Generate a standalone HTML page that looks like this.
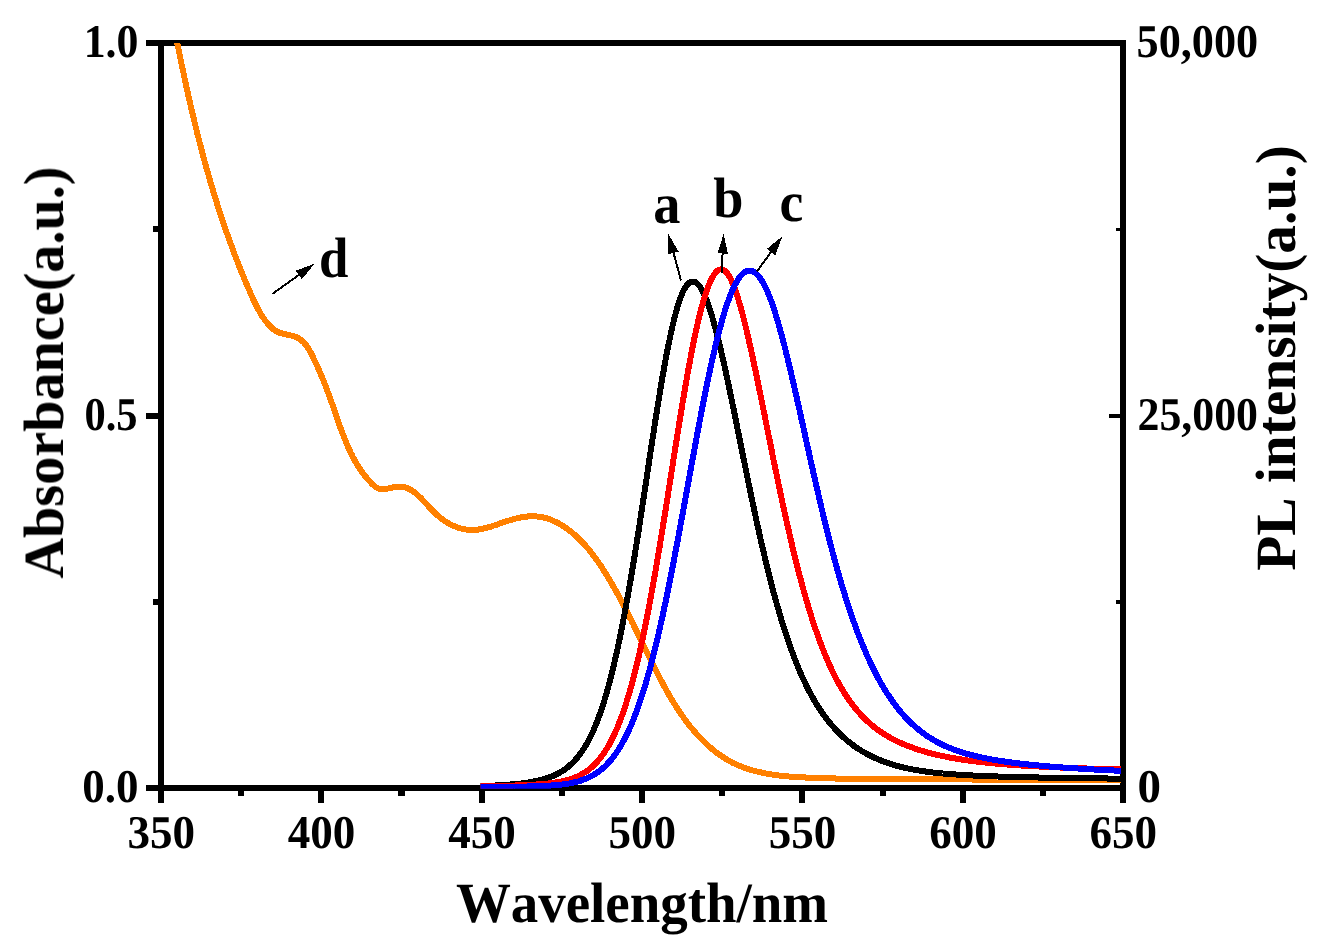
<!DOCTYPE html>
<html><head><meta charset="utf-8"><title>Absorbance and PL spectra</title>
<style>html,body{margin:0;padding:0;background:#fff;}body{width:1334px;height:950px;overflow:hidden;}svg{display:block;}text{font-family:"Liberation Serif",serif;font-weight:bold;fill:#000;font-kerning:none;text-rendering:geometricPrecision;}</style>
</head><body>
<svg width="1334" height="950" viewBox="0 0 1334 950">
<rect width="1334" height="950" fill="#fff"/>
<g fill="#000" shape-rendering="crispEdges">
<rect x="146" y="40" width="980" height="6"/>
<rect x="146" y="785" width="980" height="6"/>
<rect x="158" y="40" width="6" height="763"/>
<rect x="1120" y="40" width="6" height="763"/>
<rect x="318" y="791" width="6" height="12"/>
<rect x="479" y="791" width="6" height="12"/>
<rect x="639" y="791" width="6" height="12"/>
<rect x="799" y="791" width="6" height="12"/>
<rect x="960" y="791" width="6" height="12"/>
<rect x="238" y="791" width="6" height="5"/>
<rect x="398" y="791" width="7" height="5"/>
<rect x="559" y="791" width="6" height="5"/>
<rect x="719" y="791" width="6" height="5"/>
<rect x="880" y="791" width="6" height="5"/>
<rect x="1040" y="791" width="6" height="5"/>
<rect x="146" y="413" width="12" height="6"/>
<rect x="153" y="599" width="5" height="6"/>
<rect x="153" y="226" width="5" height="6"/>
<rect x="1109" y="414" width="11" height="4"/>
<rect x="1116" y="228" width="4" height="3"/>
<rect x="1116" y="600" width="4" height="4"/>
</g>
<defs><clipPath id="plot"><rect x="161" y="43" width="960" height="745.8"/></clipPath><clipPath id="plot2"><rect x="480.5" y="43" width="640.5" height="745.8"/></clipPath></defs>
<g clip-path="url(#plot)" fill="none" stroke-width="6" stroke-linejoin="round" stroke-linecap="butt" shape-rendering="crispEdges">
<path stroke="#ff8000" d="M174.7 30.0 L175.0 31.4 L175.3 32.9 L175.6 34.4 L175.9 35.9 L176.2 37.3 L176.5 38.8 L176.8 40.3 L177.1 41.7 L177.3 43.2 L177.6 44.7 L177.9 46.2 L178.2 47.6 L178.5 49.1 L178.8 50.6 L179.1 52.0 L179.4 53.5 L179.7 55.0 L180.0 56.5 L180.3 57.9 L180.6 59.4 L180.9 60.9 L181.2 62.3 L181.5 63.8 L181.8 65.3 L182.1 66.8 L182.4 68.2 L182.7 69.7 L183.1 71.2 L183.4 72.6 L183.7 74.1 L184.0 75.6 L184.3 77.0 L184.6 78.5 L184.9 80.0 L185.3 81.4 L185.6 82.9 L185.9 84.4 L186.2 85.8 L186.5 87.3 L186.9 88.8 L187.2 90.2 L187.5 91.7 L187.8 93.2 L188.2 94.6 L188.5 96.1 L188.8 97.6 L189.1 99.0 L189.5 100.5 L189.8 101.9 L190.1 103.4 L190.5 104.9 L190.8 106.3 L191.2 107.8 L191.5 109.3 L191.8 110.7 L192.2 112.2 L192.5 113.6 L192.9 115.1 L193.2 116.6 L193.6 118.0 L193.9 119.5 L194.3 120.9 L194.6 122.4 L195.0 123.9 L195.3 125.3 L195.7 126.8 L196.0 128.2 L196.4 129.7 L196.8 131.1 L197.1 132.6 L197.5 134.1 L197.9 135.5 L198.2 137.0 L198.6 138.4 L199.0 139.9 L199.3 141.3 L199.7 142.8 L200.1 144.2 L200.5 145.7 L200.8 147.1 L201.2 148.6 L201.6 150.0 L202.0 151.5 L202.4 152.9 L202.8 154.4 L203.1 155.8 L203.5 157.3 L203.9 158.7 L204.3 160.2 L204.7 161.6 L205.1 163.1 L205.5 164.5 L205.9 166.0 L206.3 167.4 L206.7 168.8 L207.1 170.3 L207.5 171.7 L207.9 173.2 L208.4 174.6 L208.8 176.1 L209.2 177.5 L209.6 178.9 L210.0 180.4 L210.4 181.8 L210.9 183.3 L211.3 184.7 L211.7 186.1 L212.1 187.6 L212.6 189.0 L213.0 190.4 L213.4 191.9 L213.9 193.3 L214.3 194.7 L214.8 196.2 L215.2 197.6 L215.6 199.0 L216.1 200.5 L216.5 201.9 L217.0 203.3 L217.4 204.8 L217.9 206.2 L218.3 207.6 L218.8 209.0 L219.3 210.5 L219.7 211.9 L220.2 213.3 L220.7 214.8 L221.1 216.2 L221.6 217.6 L222.1 219.0 L222.5 220.4 L223.0 221.9 L223.5 223.3 L224.0 224.7 L224.5 226.1 L225.0 227.5 L225.4 229.0 L225.9 230.4 L226.4 231.8 L226.9 233.2 L227.4 234.6 L227.9 236.0 L228.4 237.5 L228.9 238.9 L229.4 240.3 L230.0 241.7 L230.5 243.1 L231.0 244.5 L231.5 245.9 L232.0 247.3 L232.5 248.7 L233.1 250.2 L233.6 251.6 L234.1 253.0 L234.6 254.4 L235.2 255.8 L235.7 257.2 L236.3 258.6 L236.8 260.0 L237.3 261.4 L237.9 262.8 L238.4 264.2 L239.0 265.6 L239.5 267.0 L240.1 268.4 L240.7 269.8 L241.2 271.2 L241.8 272.6 L242.3 273.9 L242.9 275.3 L243.5 276.7 L244.1 278.1 L244.6 279.5 L245.2 280.9 L245.8 282.3 L246.4 283.7 L247.0 285.1 L247.6 286.4 L248.2 287.8 L248.8 289.2 L249.4 290.6 L250.0 292.0 L250.6 293.4 L251.2 294.7 L251.8 296.1 L252.4 297.5 L253.0 298.9 L253.6 300.2 L254.3 301.6 L254.9 303.0 L255.6 304.3 L256.2 305.6 L256.9 307.0 L257.6 308.3 L258.3 309.6 L259.1 310.9 L259.8 312.2 L260.5 313.5 L261.3 314.8 L262.1 316.0 L262.9 317.3 L263.8 318.5 L264.6 319.7 L265.5 320.9 L266.4 322.1 L267.4 323.2 L268.3 324.4 L269.3 325.5 L270.4 326.6 L271.4 327.6 L272.5 328.6 L273.7 329.6 L274.9 330.4 L276.2 331.2 L277.5 331.9 L278.9 332.5 L280.3 333.0 L281.8 333.4 L283.3 333.8 L284.8 334.2 L286.4 334.5 L287.9 334.8 L289.4 335.2 L291.0 335.5 L292.5 335.9 L293.9 336.3 L295.3 336.8 L296.7 337.3 L298.0 338.0 L299.2 338.7 L300.4 339.5 L301.6 340.4 L302.6 341.4 L303.7 342.4 L304.6 343.4 L305.6 344.6 L306.5 345.7 L307.3 347.0 L308.2 348.2 L309.0 349.5 L309.7 350.8 L310.5 352.2 L311.2 353.6 L311.9 354.9 L312.6 356.3 L313.3 357.7 L313.9 359.1 L314.6 360.5 L315.3 361.9 L315.9 363.3 L316.5 364.7 L317.2 366.1 L317.8 367.5 L318.4 368.8 L319.0 370.2 L319.6 371.6 L320.2 373.0 L320.8 374.3 L321.4 375.7 L321.9 377.1 L322.5 378.4 L323.1 379.8 L323.6 381.2 L324.2 382.6 L324.7 383.9 L325.3 385.3 L325.8 386.7 L326.4 388.0 L326.9 389.4 L327.4 390.8 L327.9 392.2 L328.5 393.6 L329.0 395.0 L329.5 396.4 L330.0 397.7 L330.5 399.2 L331.0 400.6 L331.5 402.0 L332.0 403.4 L332.5 404.8 L333.0 406.2 L333.5 407.6 L334.0 409.1 L334.5 410.5 L335.0 411.9 L335.4 413.3 L335.9 414.8 L336.4 416.2 L336.9 417.6 L337.4 419.1 L337.9 420.5 L338.4 422.0 L338.9 423.4 L339.4 424.8 L339.9 426.2 L340.4 427.7 L341.0 429.1 L341.5 430.5 L342.0 432.0 L342.6 433.4 L343.1 434.8 L343.6 436.2 L344.2 437.6 L344.8 439.0 L345.3 440.4 L345.9 441.8 L346.5 443.2 L347.1 444.6 L347.7 446.0 L348.3 447.4 L348.9 448.8 L349.5 450.1 L350.2 451.5 L350.8 452.8 L351.5 454.2 L352.2 455.5 L352.8 456.8 L353.5 458.2 L354.3 459.5 L355.0 460.8 L355.7 462.1 L356.5 463.4 L357.2 464.6 L358.0 465.9 L358.8 467.2 L359.6 468.4 L360.4 469.6 L361.3 470.9 L362.1 472.1 L363.0 473.3 L363.9 474.5 L364.8 475.7 L365.8 476.8 L366.7 478.0 L367.7 479.1 L368.7 480.2 L369.7 481.3 L370.7 482.4 L371.7 483.5 L372.8 484.6 L373.9 485.6 L375.0 486.5 L376.2 487.3 L377.4 488.1 L378.7 488.6 L380.0 489.1 L381.4 489.3 L382.9 489.3 L384.4 489.2 L385.9 489.0 L387.5 488.6 L389.1 488.3 L390.6 487.9 L392.2 487.5 L393.8 487.2 L395.3 486.9 L396.8 486.7 L398.3 486.6 L399.8 486.6 L401.3 486.7 L402.8 486.9 L404.2 487.2 L405.6 487.6 L407.0 488.1 L408.3 488.7 L409.6 489.3 L410.9 490.0 L412.2 490.8 L413.4 491.6 L414.6 492.5 L415.8 493.4 L416.9 494.4 L418.0 495.4 L419.1 496.4 L420.2 497.4 L421.3 498.5 L422.3 499.6 L423.4 500.7 L424.4 501.9 L425.4 503.0 L426.5 504.1 L427.5 505.2 L428.5 506.4 L429.5 507.5 L430.6 508.6 L431.6 509.6 L432.7 510.7 L433.7 511.8 L434.8 512.8 L435.9 513.9 L437.0 514.9 L438.1 515.8 L439.2 516.8 L440.3 517.8 L441.5 518.7 L442.7 519.6 L443.9 520.4 L445.1 521.3 L446.4 522.1 L447.7 522.9 L449.0 523.6 L450.3 524.3 L451.7 525.0 L453.1 525.7 L454.5 526.3 L455.9 526.8 L457.4 527.4 L458.8 527.8 L460.3 528.3 L461.8 528.7 L463.3 529.0 L464.8 529.3 L466.2 529.5 L467.7 529.7 L469.2 529.9 L470.7 529.9 L472.1 530.0 L473.6 529.9 L475.1 529.9 L476.5 529.8 L478.0 529.6 L479.4 529.4 L480.8 529.1 L482.3 528.9 L483.7 528.5 L485.1 528.2 L486.5 527.8 L488.0 527.4 L489.4 527.0 L490.8 526.6 L492.2 526.1 L493.7 525.6 L495.1 525.2 L496.5 524.7 L498.0 524.2 L499.4 523.7 L500.9 523.2 L502.3 522.7 L503.8 522.2 L505.2 521.7 L506.7 521.2 L508.2 520.7 L509.7 520.3 L511.1 519.8 L512.6 519.4 L514.1 519.0 L515.6 518.6 L517.1 518.2 L518.6 517.9 L520.1 517.6 L521.6 517.3 L523.1 517.0 L524.6 516.8 L526.1 516.6 L527.6 516.5 L529.1 516.4 L530.6 516.3 L532.1 516.3 L533.6 516.3 L535.0 516.3 L536.5 516.4 L538.0 516.6 L539.4 516.7 L540.8 517.0 L542.3 517.3 L543.7 517.6 L545.1 517.9 L546.5 518.3 L547.9 518.8 L549.3 519.2 L550.7 519.7 L552.1 520.3 L553.4 520.9 L554.8 521.5 L556.1 522.1 L557.4 522.8 L558.8 523.5 L560.1 524.2 L561.4 525.0 L562.6 525.8 L563.9 526.6 L565.2 527.4 L566.4 528.3 L567.6 529.2 L568.9 530.1 L570.1 531.0 L571.3 532.0 L572.4 532.9 L573.6 533.9 L574.8 534.9 L575.9 536.0 L577.0 537.0 L578.1 538.0 L579.2 539.1 L580.3 540.2 L581.4 541.3 L582.4 542.3 L583.5 543.5 L584.5 544.6 L585.5 545.7 L586.5 546.8 L587.5 548.0 L588.4 549.1 L589.4 550.3 L590.3 551.4 L591.3 552.6 L592.2 553.8 L593.1 555.0 L594.0 556.2 L594.9 557.4 L595.8 558.6 L596.6 559.8 L597.5 561.0 L598.3 562.3 L599.2 563.5 L600.0 564.8 L600.9 566.0 L601.7 567.2 L602.5 568.5 L603.3 569.8 L604.1 571.0 L604.9 572.3 L605.7 573.6 L606.5 574.8 L607.3 576.1 L608.0 577.4 L608.8 578.7 L609.6 580.0 L610.3 581.2 L611.1 582.5 L611.8 583.8 L612.6 585.1 L613.3 586.4 L614.1 587.7 L614.8 589.0 L615.6 590.3 L616.3 591.6 L617.0 592.9 L617.7 594.3 L618.5 595.6 L619.2 596.9 L619.9 598.2 L620.6 599.5 L621.3 600.9 L622.0 602.2 L622.7 603.5 L623.4 604.8 L624.1 606.2 L624.8 607.5 L625.5 608.8 L626.2 610.2 L626.8 611.5 L627.5 612.8 L628.2 614.2 L628.9 615.5 L629.5 616.9 L630.2 618.2 L630.9 619.5 L631.6 620.9 L632.2 622.2 L632.9 623.6 L633.6 624.9 L634.2 626.3 L634.9 627.6 L635.6 629.0 L636.2 630.3 L636.9 631.7 L637.5 633.0 L638.2 634.4 L638.9 635.7 L639.5 637.1 L640.2 638.4 L640.8 639.8 L641.5 641.1 L642.1 642.5 L642.8 643.8 L643.5 645.2 L644.1 646.5 L644.8 647.9 L645.4 649.3 L646.1 650.6 L646.8 652.0 L647.4 653.3 L648.1 654.7 L648.7 656.0 L649.4 657.4 L650.1 658.7 L650.7 660.0 L651.4 661.4 L652.1 662.7 L652.7 664.1 L653.4 665.4 L654.1 666.8 L654.7 668.1 L655.4 669.5 L656.1 670.8 L656.8 672.1 L657.5 673.5 L658.1 674.8 L658.8 676.1 L659.5 677.5 L660.2 678.8 L660.9 680.1 L661.6 681.4 L662.3 682.8 L663.0 684.1 L663.7 685.4 L664.4 686.7 L665.2 688.0 L665.9 689.3 L666.6 690.7 L667.3 692.0 L668.1 693.3 L668.8 694.6 L669.6 695.9 L670.3 697.1 L671.1 698.4 L671.8 699.7 L672.6 701.0 L673.4 702.3 L674.2 703.5 L675.0 704.8 L675.8 706.1 L676.6 707.3 L677.4 708.6 L678.2 709.8 L679.0 711.1 L679.8 712.3 L680.7 713.5 L681.5 714.8 L682.4 716.0 L683.3 717.2 L684.1 718.4 L685.0 719.6 L685.9 720.8 L686.8 722.0 L687.7 723.2 L688.6 724.4 L689.5 725.6 L690.5 726.8 L691.4 727.9 L692.4 729.1 L693.4 730.2 L694.3 731.4 L695.3 732.5 L696.3 733.6 L697.3 734.8 L698.3 735.9 L699.4 737.0 L700.4 738.1 L701.5 739.2 L702.5 740.2 L703.6 741.3 L704.7 742.4 L705.8 743.4 L706.9 744.4 L708.0 745.5 L709.1 746.5 L710.3 747.5 L711.4 748.4 L712.6 749.4 L713.7 750.4 L714.9 751.3 L716.1 752.2 L717.3 753.1 L718.5 754.0 L719.7 754.9 L721.0 755.8 L722.2 756.6 L723.5 757.4 L724.7 758.2 L726.0 759.0 L727.3 759.8 L728.6 760.5 L729.9 761.3 L731.2 762.0 L732.5 762.7 L733.8 763.3 L735.2 764.0 L736.5 764.6 L737.9 765.2 L739.3 765.8 L740.7 766.3 L742.1 766.9 L743.5 767.4 L744.9 767.9 L746.3 768.4 L747.7 768.9 L749.1 769.3 L750.5 769.8 L752.0 770.2 L753.4 770.6 L754.9 771.0 L756.3 771.3 L757.8 771.7 L759.2 772.0 L760.7 772.4 L762.2 772.7 L763.6 773.0 L765.1 773.3 L766.6 773.6 L768.1 773.8 L769.5 774.1 L771.0 774.3 L772.5 774.6 L774.0 774.8 L775.5 775.0 L777.0 775.2 L778.4 775.4 L779.9 775.6 L781.4 775.7 L782.9 775.9 L784.4 776.0 L785.9 776.2 L787.4 776.3 L788.9 776.5 L790.4 776.6 L791.9 776.7 L793.4 776.8 L794.9 776.9 L796.4 777.0 L797.9 777.1 L799.4 777.2 L800.9 777.3 L802.4 777.4 L803.9 777.4 L805.4 777.5 L806.9 777.6 L808.4 777.7 L809.9 777.7 L811.4 777.8 L812.9 777.8 L814.4 777.9 L815.9 778.0 L817.4 778.0 L818.9 778.1 L820.4 778.1 L821.9 778.1 L823.4 778.2 L824.9 778.2 L826.4 778.3 L827.9 778.3 L829.4 778.3 L830.9 778.4 L832.4 778.4 L833.9 778.4 L835.4 778.5 L836.9 778.5 L838.4 778.5 L839.9 778.5 L841.4 778.6 L842.9 778.6 L844.4 778.6 L845.9 778.6 L847.4 778.6 L848.9 778.6 L850.4 778.7 L851.9 778.7 L853.4 778.7 L854.9 778.7 L856.4 778.7 L857.9 778.7 L859.4 778.7 L860.9 778.7 L862.4 778.7 L863.9 778.7 L865.4 778.8 L866.9 778.8 L868.4 778.8 L869.9 778.8 L871.4 778.8 L872.9 778.8 L874.4 778.8 L875.9 778.8 L877.4 778.8 L878.9 778.8 L880.4 778.8 L881.9 778.8 L883.4 778.8 L884.9 778.9 L886.4 778.9 L887.9 778.9 L889.4 778.9 L890.9 778.9 L892.4 778.9 L893.9 778.9 L895.4 778.9 L896.9 778.9 L898.4 778.9 L899.9 778.9 L901.4 778.9 L902.9 779.0 L904.4 779.0 L905.9 779.0 L907.4 779.0 L908.9 779.0 L910.4 779.0 L911.9 779.0 L913.4 779.0 L914.9 779.0 L916.4 779.0 L917.9 779.1 L919.4 779.1 L920.9 779.1 L922.4 779.1 L923.9 779.1 L925.4 779.1 L926.9 779.1 L928.4 779.1 L929.9 779.1 L931.4 779.1 L932.9 779.2 L934.4 779.2 L935.9 779.2 L937.4 779.2 L938.9 779.2 L940.4 779.2 L941.9 779.2 L943.4 779.2 L944.9 779.2 L946.4 779.3 L947.9 779.3 L949.4 779.3 L950.9 779.3 L952.4 779.3 L953.9 779.3 L955.4 779.3 L956.9 779.3 L958.4 779.4 L959.9 779.4 L961.4 779.4 L962.9 779.4 L964.4 779.4 L965.9 779.4 L967.4 779.4 L968.9 779.4 L970.4 779.4 L971.9 779.5 L973.4 779.5 L974.9 779.5 L976.4 779.5 L977.9 779.5 L979.4 779.5 L980.9 779.5 L982.4 779.5 L983.9 779.6 L985.4 779.6 L987.0 779.6 L988.5 779.6 L990.0 779.6 L991.5 779.6 L993.0 779.6 L994.5 779.6 L996.0 779.6 L997.5 779.7 L999.0 779.7 L1000.5 779.7 L1002.0 779.7 L1003.5 779.7 L1005.0 779.7 L1006.5 779.7 L1008.0 779.7 L1009.5 779.7 L1011.0 779.8 L1012.5 779.8 L1014.0 779.8 L1015.5 779.8 L1017.0 779.8 L1018.5 779.8 L1020.0 779.8 L1021.5 779.8 L1023.0 779.8 L1024.5 779.9 L1026.0 779.9 L1027.5 779.9 L1029.0 779.9 L1030.5 779.9 L1032.0 779.9 L1033.5 779.9 L1035.0 779.9 L1036.5 779.9 L1038.0 779.9 L1039.5 780.0 L1041.0 780.0 L1042.5 780.0 L1044.0 780.0 L1045.5 780.0 L1047.0 780.0 L1048.5 780.0 L1050.0 780.0 L1051.5 780.0 L1053.0 780.0 L1054.5 780.1 L1056.0 780.1 L1057.5 780.1 L1059.0 780.1 L1060.5 780.1 L1062.0 780.1 L1063.5 780.1 L1065.0 780.1 L1066.5 780.1 L1068.0 780.1 L1069.5 780.1 L1071.0 780.1 L1072.5 780.2 L1074.0 780.2 L1075.5 780.2 L1077.0 780.2 L1078.5 780.2 L1080.0 780.2 L1081.5 780.2 L1083.0 780.2 L1084.5 780.2 L1086.0 780.2 L1087.5 780.2 L1089.0 780.2 L1090.5 780.2 L1092.0 780.2 L1093.5 780.2 L1095.0 780.2 L1096.5 780.3 L1098.0 780.3 L1099.5 780.3 L1101.0 780.3 L1102.5 780.3 L1104.0 780.3 L1105.5 780.3 L1107.0 780.3 L1108.5 780.3 L1110.0 780.3 L1111.5 780.3 L1113.0 780.3 L1114.5 780.3 L1116.0 780.3 L1117.5 780.3 L1119.0 780.3 L1120.5 780.3 L1122.0 780.3"/>
</g><g clip-path="url(#plot2)" fill="none" stroke-width="6" stroke-linejoin="round" shape-rendering="crispEdges">
<path stroke="#000000" d="M470.0 786.3 L471.5 786.3 L473.0 786.3 L474.5 786.2 L476.0 786.2 L477.5 786.2 L479.0 786.1 L480.5 786.1 L482.0 786.0 L483.5 786.0 L485.0 785.9 L486.5 785.9 L488.0 785.8 L489.5 785.7 L491.0 785.7 L492.5 785.6 L494.0 785.5 L495.5 785.5 L497.0 785.4 L498.5 785.3 L500.0 785.2 L501.5 785.1 L503.0 785.0 L504.5 784.9 L506.0 784.8 L507.5 784.7 L509.0 784.6 L510.5 784.5 L511.9 784.4 L513.4 784.3 L514.9 784.1 L516.4 784.0 L517.9 783.8 L519.4 783.7 L520.9 783.5 L522.4 783.3 L523.9 783.1 L525.4 782.9 L526.9 782.7 L528.3 782.5 L529.8 782.2 L531.3 782.0 L532.8 781.7 L534.2 781.4 L535.7 781.2 L537.2 780.8 L538.6 780.5 L540.1 780.2 L541.6 779.8 L543.0 779.4 L544.4 779.0 L545.9 778.5 L547.3 778.1 L548.7 777.6 L550.1 777.1 L551.5 776.5 L552.9 776.0 L554.3 775.4 L555.7 774.7 L557.0 774.1 L558.3 773.4 L559.6 772.6 L560.9 771.9 L562.2 771.1 L563.5 770.3 L564.7 769.4 L565.9 768.5 L567.1 767.6 L568.3 766.7 L569.4 765.7 L570.5 764.7 L571.6 763.7 L572.7 762.7 L573.8 761.6 L574.8 760.5 L575.8 759.4 L576.8 758.2 L577.7 757.1 L578.7 755.9 L579.6 754.7 L580.5 753.5 L581.3 752.3 L582.2 751.1 L583.0 749.8 L583.8 748.6 L584.6 747.3 L585.4 746.0 L586.2 744.7 L586.9 743.4 L587.6 742.1 L588.4 740.8 L589.1 739.4 L589.7 738.1 L590.4 736.8 L591.1 735.4 L591.7 734.1 L592.3 732.7 L593.0 731.3 L593.6 730.0 L594.2 728.6 L594.8 727.2 L595.3 725.8 L595.9 724.4 L596.5 723.1 L597.0 721.7 L597.6 720.3 L598.1 718.9 L598.6 717.5 L599.1 716.0 L599.7 714.6 L600.2 713.2 L600.6 711.8 L601.1 710.4 L601.6 709.0 L602.1 707.5 L602.6 706.1 L603.0 704.7 L603.5 703.3 L603.9 701.8 L604.4 700.4 L604.8 699.0 L605.2 697.5 L605.7 696.1 L606.1 694.6 L606.5 693.2 L606.9 691.8 L607.3 690.3 L607.7 688.9 L608.1 687.4 L608.5 686.0 L608.9 684.5 L609.3 683.1 L609.7 681.6 L610.1 680.2 L610.5 678.7 L610.8 677.3 L611.2 675.8 L611.6 674.4 L611.9 672.9 L612.3 671.5 L612.7 670.0 L613.0 668.6 L613.4 667.1 L613.7 665.6 L614.1 664.2 L614.4 662.7 L614.7 661.3 L615.1 659.8 L615.4 658.3 L615.7 656.9 L616.1 655.4 L616.4 653.9 L616.7 652.5 L617.0 651.0 L617.4 649.5 L617.7 648.1 L618.0 646.6 L618.3 645.1 L618.6 643.7 L618.9 642.2 L619.2 640.7 L619.5 639.3 L619.8 637.8 L620.1 636.3 L620.4 634.9 L620.7 633.4 L621.0 631.9 L621.3 630.5 L621.6 629.0 L621.9 627.5 L622.2 626.0 L622.5 624.6 L622.8 623.1 L623.1 621.6 L623.3 620.1 L623.6 618.7 L623.9 617.2 L624.2 615.7 L624.5 614.3 L624.7 612.8 L625.0 611.3 L625.3 609.8 L625.6 608.4 L625.8 606.9 L626.1 605.4 L626.4 603.9 L626.6 602.5 L626.9 601.0 L627.2 599.5 L627.4 598.0 L627.7 596.5 L628.0 595.1 L628.2 593.6 L628.5 592.1 L628.7 590.6 L629.0 589.2 L629.3 587.7 L629.5 586.2 L629.8 584.7 L630.0 583.2 L630.3 581.8 L630.5 580.3 L630.8 578.8 L631.0 577.3 L631.3 575.9 L631.5 574.4 L631.8 572.9 L632.0 571.4 L632.3 569.9 L632.5 568.5 L632.8 567.0 L633.0 565.5 L633.2 564.0 L633.5 562.5 L633.7 561.1 L634.0 559.6 L634.2 558.1 L634.5 556.6 L634.7 555.1 L634.9 553.7 L635.2 552.2 L635.4 550.7 L635.6 549.2 L635.9 547.7 L636.1 546.2 L636.4 544.8 L636.6 543.3 L636.8 541.8 L637.1 540.3 L637.3 538.8 L637.5 537.4 L637.8 535.9 L638.0 534.4 L638.2 532.9 L638.5 531.4 L638.7 529.9 L638.9 528.5 L639.1 527.0 L639.4 525.5 L639.6 524.0 L639.8 522.5 L640.1 521.1 L640.3 519.6 L640.5 518.1 L640.7 516.6 L641.0 515.1 L641.2 513.6 L641.4 512.2 L641.7 510.7 L641.9 509.2 L642.1 507.7 L642.3 506.2 L642.6 504.7 L642.8 503.3 L643.0 501.8 L643.2 500.3 L643.5 498.8 L643.7 497.3 L643.9 495.8 L644.1 494.4 L644.4 492.9 L644.6 491.4 L644.8 489.9 L645.0 488.4 L645.3 486.9 L645.5 485.5 L645.7 484.0 L645.9 482.5 L646.2 481.0 L646.4 479.5 L646.6 478.0 L646.8 476.6 L647.0 475.1 L647.3 473.6 L647.5 472.1 L647.7 470.6 L647.9 469.1 L648.2 467.7 L648.4 466.2 L648.6 464.7 L648.8 463.2 L649.1 461.7 L649.3 460.2 L649.5 458.8 L649.7 457.3 L650.0 455.8 L650.2 454.3 L650.4 452.8 L650.6 451.4 L650.9 449.9 L651.1 448.4 L651.3 446.9 L651.5 445.4 L651.8 443.9 L652.0 442.5 L652.2 441.0 L652.4 439.5 L652.7 438.0 L652.9 436.5 L653.1 435.0 L653.4 433.6 L653.6 432.1 L653.8 430.6 L654.0 429.1 L654.3 427.6 L654.5 426.1 L654.7 424.7 L655.0 423.2 L655.2 421.7 L655.4 420.2 L655.7 418.7 L655.9 417.3 L656.1 415.8 L656.4 414.3 L656.6 412.8 L656.8 411.3 L657.1 409.8 L657.3 408.4 L657.5 406.9 L657.8 405.4 L658.0 403.9 L658.2 402.4 L658.5 401.0 L658.7 399.5 L659.0 398.0 L659.2 396.5 L659.5 395.0 L659.7 393.6 L659.9 392.1 L660.2 390.6 L660.4 389.1 L660.7 387.6 L660.9 386.2 L661.2 384.7 L661.4 383.2 L661.7 381.7 L661.9 380.2 L662.2 378.8 L662.4 377.3 L662.7 375.8 L663.0 374.3 L663.2 372.9 L663.5 371.4 L663.7 369.9 L664.0 368.4 L664.3 366.9 L664.5 365.5 L664.8 364.0 L665.1 362.5 L665.3 361.0 L665.6 359.6 L665.9 358.1 L666.2 356.6 L666.4 355.1 L666.7 353.7 L667.0 352.2 L667.3 350.7 L667.6 349.3 L667.9 347.8 L668.2 346.3 L668.5 344.8 L668.8 343.4 L669.1 341.9 L669.4 340.4 L669.7 339.0 L670.0 337.5 L670.3 336.0 L670.6 334.6 L670.9 333.1 L671.2 331.6 L671.6 330.2 L671.9 328.7 L672.2 327.2 L672.6 325.8 L672.9 324.3 L673.3 322.9 L673.6 321.4 L674.0 319.9 L674.3 318.5 L674.7 317.0 L675.1 315.6 L675.5 314.1 L675.9 312.7 L676.3 311.2 L676.7 309.8 L677.1 308.4 L677.5 306.9 L677.9 305.5 L678.4 304.1 L678.8 302.6 L679.3 301.2 L679.8 299.8 L680.3 298.4 L680.8 297.0 L681.4 295.6 L681.9 294.2 L682.5 292.8 L683.2 291.4 L683.8 290.1 L684.5 288.8 L685.3 287.5 L686.1 286.2 L687.0 285.0 L688.0 283.9 L689.1 282.9 L690.4 282.2 L691.8 281.7 L693.3 281.6 L694.8 282.0 L696.1 282.7 L697.3 283.7 L698.3 284.7 L699.3 285.9 L700.2 287.1 L701.0 288.3 L701.7 289.6 L702.5 291.0 L703.2 292.3 L703.8 293.6 L704.4 295.0 L705.0 296.4 L705.6 297.8 L706.2 299.1 L706.7 300.5 L707.3 301.9 L707.8 303.4 L708.3 304.8 L708.8 306.2 L709.3 307.6 L709.7 309.0 L710.2 310.5 L710.7 311.9 L711.1 313.3 L711.5 314.7 L712.0 316.2 L712.4 317.6 L712.8 319.1 L713.2 320.5 L713.6 321.9 L714.0 323.4 L714.4 324.8 L714.8 326.3 L715.2 327.7 L715.6 329.2 L716.0 330.6 L716.4 332.1 L716.8 333.5 L717.1 335.0 L717.5 336.4 L717.9 337.9 L718.2 339.4 L718.6 340.8 L718.9 342.3 L719.3 343.7 L719.7 345.2 L720.0 346.6 L720.3 348.1 L720.7 349.6 L721.0 351.0 L721.4 352.5 L721.7 353.9 L722.1 355.4 L722.4 356.9 L722.7 358.3 L723.1 359.8 L723.4 361.3 L723.7 362.7 L724.0 364.2 L724.4 365.6 L724.7 367.1 L725.0 368.6 L725.3 370.0 L725.7 371.5 L726.0 373.0 L726.3 374.4 L726.6 375.9 L726.9 377.4 L727.2 378.8 L727.6 380.3 L727.9 381.8 L728.2 383.2 L728.5 384.7 L728.8 386.2 L729.1 387.6 L729.4 389.1 L729.7 390.6 L730.0 392.0 L730.3 393.5 L730.6 395.0 L730.9 396.4 L731.3 397.9 L731.6 399.4 L731.9 400.9 L732.2 402.3 L732.5 403.8 L732.8 405.3 L733.1 406.7 L733.4 408.2 L733.7 409.7 L734.0 411.1 L734.3 412.6 L734.6 414.1 L734.9 415.6 L735.2 417.0 L735.5 418.5 L735.8 420.0 L736.1 421.4 L736.4 422.9 L736.7 424.4 L737.0 425.8 L737.3 427.3 L737.5 428.8 L737.8 430.3 L738.1 431.7 L738.4 433.2 L738.7 434.7 L739.0 436.1 L739.3 437.6 L739.6 439.1 L739.9 440.5 L740.2 442.0 L740.5 443.5 L740.8 445.0 L741.1 446.4 L741.4 447.9 L741.7 449.4 L742.0 450.8 L742.3 452.3 L742.6 453.8 L742.9 455.2 L743.2 456.7 L743.5 458.2 L743.8 459.7 L744.1 461.1 L744.4 462.6 L744.7 464.1 L745.0 465.5 L745.3 467.0 L745.6 468.5 L745.9 470.0 L746.2 471.4 L746.5 472.9 L746.8 474.4 L747.1 475.8 L747.4 477.3 L747.7 478.8 L748.0 480.2 L748.3 481.7 L748.6 483.2 L748.9 484.6 L749.2 486.1 L749.5 487.6 L749.8 489.1 L750.1 490.5 L750.4 492.0 L750.7 493.5 L751.0 494.9 L751.3 496.4 L751.6 497.9 L751.9 499.3 L752.2 500.8 L752.6 502.3 L752.9 503.7 L753.2 505.2 L753.5 506.7 L753.8 508.1 L754.1 509.6 L754.4 511.1 L754.7 512.5 L755.1 514.0 L755.4 515.5 L755.7 516.9 L756.0 518.4 L756.3 519.9 L756.6 521.3 L757.0 522.8 L757.3 524.3 L757.6 525.7 L757.9 527.2 L758.3 528.7 L758.6 530.1 L758.9 531.6 L759.2 533.1 L759.6 534.5 L759.9 536.0 L760.2 537.4 L760.5 538.9 L760.9 540.4 L761.2 541.8 L761.5 543.3 L761.9 544.8 L762.2 546.2 L762.6 547.7 L762.9 549.1 L763.2 550.6 L763.6 552.1 L763.9 553.5 L764.3 555.0 L764.6 556.4 L764.9 557.9 L765.3 559.4 L765.6 560.8 L766.0 562.3 L766.3 563.7 L766.7 565.2 L767.1 566.7 L767.4 568.1 L767.8 569.6 L768.1 571.0 L768.5 572.5 L768.9 573.9 L769.2 575.4 L769.6 576.8 L770.0 578.3 L770.3 579.7 L770.7 581.2 L771.1 582.7 L771.4 584.1 L771.8 585.6 L772.2 587.0 L772.6 588.5 L773.0 589.9 L773.3 591.4 L773.7 592.8 L774.1 594.3 L774.5 595.7 L774.9 597.2 L775.3 598.6 L775.7 600.0 L776.1 601.5 L776.5 602.9 L776.9 604.4 L777.3 605.8 L777.7 607.3 L778.1 608.7 L778.6 610.2 L779.0 611.6 L779.4 613.0 L779.8 614.5 L780.2 615.9 L780.7 617.3 L781.1 618.8 L781.5 620.2 L782.0 621.7 L782.4 623.1 L782.9 624.5 L783.3 626.0 L783.8 627.4 L784.2 628.8 L784.7 630.2 L785.1 631.7 L785.6 633.1 L786.1 634.5 L786.5 635.9 L787.0 637.4 L787.5 638.8 L788.0 640.2 L788.4 641.6 L788.9 643.1 L789.4 644.5 L789.9 645.9 L790.4 647.3 L790.9 648.7 L791.4 650.1 L792.0 651.5 L792.5 652.9 L793.0 654.3 L793.5 655.7 L794.1 657.1 L794.6 658.5 L795.2 659.9 L795.7 661.3 L796.3 662.7 L796.8 664.1 L797.4 665.5 L798.0 666.9 L798.5 668.3 L799.1 669.7 L799.7 671.0 L800.3 672.4 L800.9 673.8 L801.5 675.2 L802.1 676.5 L802.7 677.9 L803.4 679.3 L804.0 680.6 L804.6 682.0 L805.3 683.3 L805.9 684.7 L806.6 686.0 L807.3 687.4 L807.9 688.7 L808.6 690.1 L809.3 691.4 L810.0 692.7 L810.7 694.0 L811.4 695.3 L812.2 696.7 L812.9 698.0 L813.7 699.3 L814.4 700.6 L815.2 701.9 L815.9 703.1 L816.7 704.4 L817.5 705.7 L818.3 707.0 L819.1 708.2 L819.9 709.5 L820.8 710.7 L821.6 712.0 L822.5 713.2 L823.3 714.4 L824.2 715.6 L825.1 716.9 L826.0 718.1 L826.9 719.3 L827.8 720.4 L828.8 721.6 L829.7 722.8 L830.7 723.9 L831.6 725.1 L832.6 726.2 L833.6 727.3 L834.6 728.5 L835.6 729.6 L836.6 730.7 L837.7 731.7 L838.7 732.8 L839.8 733.9 L840.9 734.9 L842.0 735.9 L843.1 736.9 L844.2 738.0 L845.3 738.9 L846.5 739.9 L847.6 740.9 L848.8 741.8 L849.9 742.8 L851.1 743.7 L852.3 744.6 L853.5 745.5 L854.7 746.4 L856.0 747.2 L857.2 748.1 L858.5 748.9 L859.7 749.7 L861.0 750.5 L862.3 751.3 L863.6 752.0 L864.9 752.8 L866.2 753.5 L867.5 754.2 L868.8 754.9 L870.2 755.6 L871.5 756.3 L872.8 756.9 L874.2 757.6 L875.6 758.2 L876.9 758.8 L878.3 759.4 L879.7 760.0 L881.1 760.5 L882.5 761.1 L883.9 761.6 L885.3 762.1 L886.7 762.6 L888.1 763.1 L889.6 763.6 L891.0 764.1 L892.4 764.5 L893.9 764.9 L895.3 765.4 L896.7 765.8 L898.2 766.2 L899.6 766.5 L901.1 766.9 L902.6 767.3 L904.0 767.6 L905.5 767.9 L906.9 768.3 L908.4 768.6 L909.9 768.9 L911.3 769.2 L912.8 769.5 L914.3 769.7 L915.8 770.0 L917.2 770.3 L918.7 770.5 L920.2 770.7 L921.7 771.0 L923.2 771.2 L924.7 771.4 L926.1 771.6 L927.6 771.8 L929.1 772.0 L930.6 772.2 L932.1 772.4 L933.6 772.6 L935.1 772.7 L936.6 772.9 L938.1 773.0 L939.6 773.2 L941.0 773.3 L942.5 773.5 L944.0 773.6 L945.5 773.7 L947.0 773.9 L948.5 774.0 L950.0 774.1 L951.5 774.2 L953.0 774.3 L954.5 774.4 L956.0 774.5 L957.5 774.6 L959.0 774.7 L960.5 774.8 L962.0 774.9 L963.5 775.0 L965.0 775.1 L966.5 775.2 L968.0 775.3 L969.5 775.3 L971.0 775.4 L972.5 775.5 L974.0 775.6 L975.5 775.6 L977.0 775.7 L978.5 775.8 L980.0 775.8 L981.5 775.9 L983.0 775.9 L984.5 776.0 L986.0 776.1 L987.5 776.1 L989.0 776.2 L990.5 776.2 L992.0 776.3 L993.4 776.3 L994.9 776.4 L996.4 776.4 L997.9 776.5 L999.4 776.5 L1000.9 776.6 L1002.4 776.6 L1003.9 776.7 L1005.4 776.7 L1006.9 776.7 L1008.4 776.8 L1009.9 776.8 L1011.4 776.9 L1012.9 776.9 L1014.4 776.9 L1015.9 777.0 L1017.4 777.0 L1018.9 777.0 L1020.4 777.1 L1021.9 777.1 L1023.4 777.1 L1024.9 777.2 L1026.4 777.2 L1027.9 777.2 L1029.4 777.3 L1030.9 777.3 L1032.4 777.3 L1033.9 777.4 L1035.4 777.4 L1036.9 777.4 L1038.4 777.5 L1039.9 777.5 L1041.4 777.5 L1042.9 777.5 L1044.4 777.6 L1045.9 777.6 L1047.4 777.6 L1048.9 777.6 L1050.4 777.7 L1051.9 777.7 L1053.4 777.7 L1054.9 777.7 L1056.4 777.8 L1057.9 777.8 L1059.4 777.8 L1060.9 777.8 L1062.4 777.9 L1063.9 777.9 L1065.4 777.9 L1066.9 777.9 L1068.4 778.0 L1069.9 778.0 L1071.4 778.0 L1072.9 778.0 L1074.4 778.0 L1075.9 778.1 L1077.4 778.1 L1078.9 778.1 L1080.4 778.1 L1081.9 778.1 L1083.4 778.2 L1084.9 778.2 L1086.4 778.2 L1087.9 778.2 L1089.4 778.2 L1090.9 778.3 L1092.4 778.3 L1093.9 778.3 L1095.4 778.3 L1096.9 778.3 L1098.4 778.4 L1099.9 778.4 L1101.4 778.4 L1102.9 778.4 L1104.4 778.4 L1105.9 778.4 L1107.4 778.5 L1108.9 778.5 L1110.4 778.5 L1111.9 778.5 L1113.4 778.5 L1114.9 778.5 L1116.4 778.6 L1117.9 778.6 L1119.4 778.6 L1120.9 778.6 L1122.4 778.6 L1123.9 778.6"/>
<path stroke="#ff0000" d="M470.0 786.4 L471.5 786.4 L473.0 786.3 L474.5 786.3 L476.0 786.3 L477.5 786.3 L479.0 786.2 L480.5 786.2 L482.0 786.2 L483.5 786.2 L485.0 786.2 L486.5 786.1 L488.0 786.1 L489.5 786.1 L491.0 786.0 L492.5 786.0 L494.0 786.0 L495.5 786.0 L497.0 785.9 L498.5 785.9 L500.0 785.9 L501.5 785.8 L503.0 785.8 L504.5 785.8 L506.0 785.7 L507.5 785.7 L509.0 785.7 L510.5 785.6 L512.0 785.6 L513.5 785.5 L515.0 785.5 L516.5 785.4 L518.0 785.4 L519.5 785.3 L521.0 785.3 L522.5 785.2 L524.0 785.2 L525.5 785.1 L527.0 785.0 L528.5 785.0 L530.0 784.9 L531.5 784.8 L533.0 784.7 L534.5 784.6 L536.0 784.5 L537.5 784.4 L539.0 784.3 L540.5 784.2 L542.0 784.1 L543.4 784.0 L544.9 783.8 L546.4 783.7 L547.9 783.5 L549.4 783.4 L550.9 783.2 L552.4 783.0 L553.9 782.8 L555.4 782.6 L556.8 782.3 L558.3 782.1 L559.8 781.8 L561.3 781.5 L562.7 781.2 L564.2 780.9 L565.7 780.5 L567.1 780.1 L568.5 779.7 L570.0 779.3 L571.4 778.8 L572.8 778.3 L574.2 777.8 L575.6 777.2 L577.0 776.6 L578.4 776.0 L579.7 775.3 L581.0 774.6 L582.3 773.9 L583.6 773.1 L584.9 772.4 L586.1 771.5 L587.4 770.7 L588.6 769.8 L589.8 768.8 L590.9 767.9 L592.0 766.9 L593.1 765.9 L594.2 764.8 L595.3 763.8 L596.3 762.7 L597.3 761.6 L598.3 760.4 L599.3 759.3 L600.2 758.1 L601.1 756.9 L602.0 755.7 L602.9 754.5 L603.8 753.3 L604.6 752.1 L605.4 750.8 L606.2 749.5 L607.0 748.2 L607.8 747.0 L608.5 745.7 L609.3 744.4 L610.0 743.0 L610.7 741.7 L611.4 740.4 L612.1 739.0 L612.7 737.7 L613.4 736.4 L614.0 735.0 L614.7 733.6 L615.3 732.3 L615.9 730.9 L616.5 729.5 L617.1 728.1 L617.7 726.8 L618.2 725.4 L618.8 724.0 L619.3 722.6 L619.9 721.2 L620.4 719.8 L620.9 718.4 L621.5 717.0 L622.0 715.6 L622.5 714.2 L623.0 712.7 L623.5 711.3 L624.0 709.9 L624.4 708.5 L624.9 707.1 L625.4 705.6 L625.8 704.2 L626.3 702.8 L626.7 701.3 L627.2 699.9 L627.6 698.5 L628.1 697.0 L628.5 695.6 L628.9 694.2 L629.3 692.7 L629.8 691.3 L630.2 689.8 L630.6 688.4 L631.0 687.0 L631.4 685.5 L631.8 684.1 L632.2 682.6 L632.6 681.2 L632.9 679.7 L633.3 678.3 L633.7 676.8 L634.1 675.4 L634.5 673.9 L634.8 672.5 L635.2 671.0 L635.6 669.5 L635.9 668.1 L636.3 666.6 L636.6 665.2 L637.0 663.7 L637.3 662.3 L637.7 660.8 L638.0 659.3 L638.4 657.9 L638.7 656.4 L639.0 655.0 L639.4 653.5 L639.7 652.0 L640.0 650.6 L640.3 649.1 L640.7 647.6 L641.0 646.2 L641.3 644.7 L641.6 643.2 L642.0 641.8 L642.3 640.3 L642.6 638.8 L642.9 637.4 L643.2 635.9 L643.5 634.4 L643.8 633.0 L644.1 631.5 L644.4 630.0 L644.7 628.6 L645.0 627.1 L645.3 625.6 L645.6 624.2 L645.9 622.7 L646.2 621.2 L646.5 619.7 L646.8 618.3 L647.1 616.8 L647.4 615.3 L647.6 613.9 L647.9 612.4 L648.2 610.9 L648.5 609.4 L648.8 608.0 L649.1 606.5 L649.3 605.0 L649.6 603.5 L649.9 602.1 L650.2 600.6 L650.4 599.1 L650.7 597.6 L651.0 596.2 L651.3 594.7 L651.5 593.2 L651.8 591.7 L652.1 590.3 L652.3 588.8 L652.6 587.3 L652.9 585.8 L653.1 584.4 L653.4 582.9 L653.6 581.4 L653.9 579.9 L654.2 578.4 L654.4 577.0 L654.7 575.5 L654.9 574.0 L655.2 572.5 L655.5 571.1 L655.7 569.6 L656.0 568.1 L656.2 566.6 L656.5 565.1 L656.7 563.7 L657.0 562.2 L657.2 560.7 L657.5 559.2 L657.7 557.8 L658.0 556.3 L658.2 554.8 L658.5 553.3 L658.7 551.8 L659.0 550.4 L659.2 548.9 L659.5 547.4 L659.7 545.9 L660.0 544.4 L660.2 543.0 L660.4 541.5 L660.7 540.0 L660.9 538.5 L661.2 537.0 L661.4 535.6 L661.7 534.1 L661.9 532.6 L662.1 531.1 L662.4 529.6 L662.6 528.2 L662.9 526.7 L663.1 525.2 L663.3 523.7 L663.6 522.2 L663.8 520.7 L664.1 519.3 L664.3 517.8 L664.5 516.3 L664.8 514.8 L665.0 513.3 L665.2 511.9 L665.5 510.4 L665.7 508.9 L665.9 507.4 L666.2 505.9 L666.4 504.5 L666.7 503.0 L666.9 501.5 L667.1 500.0 L667.4 498.5 L667.6 497.0 L667.8 495.6 L668.1 494.1 L668.3 492.6 L668.5 491.1 L668.8 489.6 L669.0 488.2 L669.2 486.7 L669.5 485.2 L669.7 483.7 L669.9 482.2 L670.2 480.7 L670.4 479.3 L670.6 477.8 L670.9 476.3 L671.1 474.8 L671.3 473.3 L671.5 471.9 L671.8 470.4 L672.0 468.9 L672.2 467.4 L672.5 465.9 L672.7 464.4 L672.9 463.0 L673.2 461.5 L673.4 460.0 L673.6 458.5 L673.9 457.0 L674.1 455.6 L674.3 454.1 L674.6 452.6 L674.8 451.1 L675.0 449.6 L675.3 448.1 L675.5 446.7 L675.7 445.2 L676.0 443.7 L676.2 442.2 L676.4 440.7 L676.7 439.3 L676.9 437.8 L677.2 436.3 L677.4 434.8 L677.6 433.3 L677.9 431.9 L678.1 430.4 L678.3 428.9 L678.6 427.4 L678.8 425.9 L679.1 424.4 L679.3 423.0 L679.5 421.5 L679.8 420.0 L680.0 418.5 L680.3 417.0 L680.5 415.6 L680.7 414.1 L681.0 412.6 L681.2 411.1 L681.5 409.6 L681.7 408.2 L682.0 406.7 L682.2 405.2 L682.4 403.7 L682.7 402.2 L682.9 400.8 L683.2 399.3 L683.4 397.8 L683.7 396.3 L683.9 394.8 L684.2 393.4 L684.4 391.9 L684.7 390.4 L684.9 388.9 L685.2 387.5 L685.4 386.0 L685.7 384.5 L686.0 383.0 L686.2 381.5 L686.5 380.1 L686.7 378.6 L687.0 377.1 L687.3 375.6 L687.5 374.2 L687.8 372.7 L688.1 371.2 L688.3 369.7 L688.6 368.3 L688.9 366.8 L689.1 365.3 L689.4 363.8 L689.7 362.3 L689.9 360.9 L690.2 359.4 L690.5 357.9 L690.8 356.5 L691.1 355.0 L691.3 353.5 L691.6 352.0 L691.9 350.6 L692.2 349.1 L692.5 347.6 L692.8 346.1 L693.1 344.7 L693.4 343.2 L693.7 341.7 L694.0 340.3 L694.3 338.8 L694.6 337.3 L694.9 335.9 L695.2 334.4 L695.5 332.9 L695.8 331.5 L696.2 330.0 L696.5 328.5 L696.8 327.1 L697.1 325.6 L697.5 324.1 L697.8 322.7 L698.2 321.2 L698.5 319.8 L698.9 318.3 L699.2 316.8 L699.6 315.4 L699.9 313.9 L700.3 312.5 L700.7 311.0 L701.0 309.6 L701.4 308.1 L701.8 306.7 L702.2 305.2 L702.6 303.8 L703.0 302.3 L703.5 300.9 L703.9 299.5 L704.3 298.0 L704.8 296.6 L705.2 295.2 L705.7 293.7 L706.2 292.3 L706.6 290.9 L707.2 289.5 L707.7 288.1 L708.2 286.7 L708.7 285.3 L709.3 283.9 L709.9 282.5 L710.5 281.1 L711.2 279.8 L711.8 278.4 L712.5 277.1 L713.3 275.8 L714.1 274.6 L715.0 273.3 L715.9 272.2 L717.0 271.1 L718.2 270.2 L719.5 269.6 L721.0 269.3 L722.5 269.5 L723.9 270.1 L725.1 270.9 L726.2 272.0 L727.1 273.1 L728.0 274.3 L728.8 275.6 L729.6 276.9 L730.3 278.2 L731.0 279.5 L731.6 280.9 L732.2 282.3 L732.8 283.6 L733.4 285.0 L733.9 286.4 L734.5 287.8 L735.0 289.2 L735.5 290.7 L736.0 292.1 L736.5 293.5 L736.9 294.9 L737.4 296.3 L737.8 297.8 L738.3 299.2 L738.7 300.6 L739.1 302.1 L739.6 303.5 L740.0 305.0 L740.4 306.4 L740.8 307.8 L741.2 309.3 L741.6 310.7 L742.0 312.2 L742.4 313.6 L742.8 315.1 L743.1 316.5 L743.5 318.0 L743.9 319.4 L744.2 320.9 L744.6 322.4 L745.0 323.8 L745.3 325.3 L745.7 326.7 L746.0 328.2 L746.4 329.6 L746.7 331.1 L747.1 332.6 L747.4 334.0 L747.8 335.5 L748.1 336.9 L748.4 338.4 L748.8 339.9 L749.1 341.3 L749.4 342.8 L749.8 344.3 L750.1 345.7 L750.4 347.2 L750.7 348.6 L751.1 350.1 L751.4 351.6 L751.7 353.0 L752.0 354.5 L752.3 356.0 L752.7 357.4 L753.0 358.9 L753.3 360.4 L753.6 361.8 L753.9 363.3 L754.2 364.8 L754.5 366.2 L754.9 367.7 L755.2 369.2 L755.5 370.6 L755.8 372.1 L756.1 373.6 L756.4 375.0 L756.7 376.5 L757.0 378.0 L757.3 379.5 L757.6 380.9 L757.9 382.4 L758.2 383.9 L758.5 385.3 L758.8 386.8 L759.1 388.3 L759.4 389.7 L759.7 391.2 L760.0 392.7 L760.3 394.1 L760.6 395.6 L760.9 397.1 L761.2 398.6 L761.5 400.0 L761.8 401.5 L762.1 403.0 L762.4 404.4 L762.7 405.9 L763.0 407.4 L763.3 408.9 L763.6 410.3 L763.9 411.8 L764.2 413.3 L764.5 414.7 L764.8 416.2 L765.1 417.7 L765.4 419.1 L765.6 420.6 L765.9 422.1 L766.2 423.6 L766.5 425.0 L766.8 426.5 L767.1 428.0 L767.4 429.4 L767.7 430.9 L768.0 432.4 L768.3 433.9 L768.6 435.3 L768.9 436.8 L769.2 438.3 L769.5 439.7 L769.8 441.2 L770.1 442.7 L770.4 444.1 L770.7 445.6 L771.0 447.1 L771.3 448.6 L771.6 450.0 L771.9 451.5 L772.2 453.0 L772.4 454.4 L772.7 455.9 L773.0 457.4 L773.3 458.8 L773.6 460.3 L773.9 461.8 L774.2 463.3 L774.5 464.7 L774.8 466.2 L775.1 467.7 L775.4 469.1 L775.8 470.6 L776.1 472.1 L776.4 473.5 L776.7 475.0 L777.0 476.5 L777.3 478.0 L777.6 479.4 L777.9 480.9 L778.2 482.4 L778.5 483.8 L778.8 485.3 L779.1 486.8 L779.4 488.2 L779.7 489.7 L780.0 491.2 L780.3 492.6 L780.7 494.1 L781.0 495.6 L781.3 497.0 L781.6 498.5 L781.9 500.0 L782.2 501.4 L782.5 502.9 L782.9 504.4 L783.2 505.8 L783.5 507.3 L783.8 508.8 L784.1 510.2 L784.4 511.7 L784.8 513.2 L785.1 514.6 L785.4 516.1 L785.7 517.6 L786.1 519.0 L786.4 520.5 L786.7 521.9 L787.0 523.4 L787.4 524.9 L787.7 526.3 L788.0 527.8 L788.4 529.3 L788.7 530.7 L789.0 532.2 L789.4 533.6 L789.7 535.1 L790.0 536.6 L790.4 538.0 L790.7 539.5 L791.1 541.0 L791.4 542.4 L791.8 543.9 L792.1 545.3 L792.4 546.8 L792.8 548.3 L793.1 549.7 L793.5 551.2 L793.9 552.6 L794.2 554.1 L794.6 555.5 L794.9 557.0 L795.3 558.5 L795.6 559.9 L796.0 561.4 L796.4 562.8 L796.7 564.3 L797.1 565.7 L797.5 567.2 L797.8 568.6 L798.2 570.1 L798.6 571.5 L799.0 573.0 L799.3 574.4 L799.7 575.9 L800.1 577.3 L800.5 578.8 L800.9 580.2 L801.3 581.7 L801.6 583.1 L802.0 584.6 L802.4 586.0 L802.8 587.5 L803.2 588.9 L803.6 590.4 L804.0 591.8 L804.4 593.3 L804.8 594.7 L805.3 596.2 L805.7 597.6 L806.1 599.0 L806.5 600.5 L806.9 601.9 L807.3 603.4 L807.8 604.8 L808.2 606.2 L808.6 607.7 L809.1 609.1 L809.5 610.5 L810.0 612.0 L810.4 613.4 L810.8 614.8 L811.3 616.3 L811.7 617.7 L812.2 619.1 L812.7 620.6 L813.1 622.0 L813.6 623.4 L814.1 624.8 L814.5 626.3 L815.0 627.7 L815.5 629.1 L816.0 630.5 L816.5 631.9 L817.0 633.3 L817.5 634.8 L818.0 636.2 L818.5 637.6 L819.0 639.0 L819.5 640.4 L820.0 641.8 L820.6 643.2 L821.1 644.6 L821.6 646.0 L822.2 647.4 L822.7 648.8 L823.3 650.2 L823.8 651.6 L824.4 653.0 L824.9 654.4 L825.5 655.8 L826.1 657.2 L826.7 658.5 L827.3 659.9 L827.9 661.3 L828.5 662.7 L829.1 664.0 L829.7 665.4 L830.3 666.8 L831.0 668.1 L831.6 669.5 L832.2 670.8 L832.9 672.2 L833.6 673.5 L834.2 674.9 L834.9 676.2 L835.6 677.6 L836.3 678.9 L837.0 680.2 L837.7 681.5 L838.4 682.8 L839.1 684.2 L839.9 685.5 L840.6 686.8 L841.4 688.1 L842.1 689.3 L842.9 690.6 L843.7 691.9 L844.5 693.2 L845.3 694.4 L846.1 695.7 L847.0 697.0 L847.8 698.2 L848.7 699.4 L849.5 700.7 L850.4 701.9 L851.3 703.1 L852.2 704.3 L853.1 705.5 L854.0 706.7 L855.0 707.8 L855.9 709.0 L856.9 710.1 L857.8 711.3 L858.8 712.4 L859.8 713.5 L860.8 714.6 L861.9 715.7 L862.9 716.8 L864.0 717.9 L865.0 718.9 L866.1 720.0 L867.2 721.0 L868.3 722.0 L869.4 723.0 L870.6 724.0 L871.7 725.0 L872.9 725.9 L874.0 726.9 L875.2 727.8 L876.4 728.7 L877.6 729.6 L878.8 730.5 L880.0 731.3 L881.3 732.2 L882.5 733.0 L883.8 733.8 L885.1 734.6 L886.3 735.4 L887.6 736.2 L888.9 736.9 L890.2 737.7 L891.5 738.4 L892.9 739.1 L894.2 739.8 L895.5 740.5 L896.9 741.1 L898.2 741.8 L899.6 742.4 L901.0 743.0 L902.3 743.7 L903.7 744.2 L905.1 744.8 L906.5 745.4 L907.9 745.9 L909.3 746.5 L910.7 747.0 L912.1 747.5 L913.5 748.0 L914.9 748.5 L916.3 749.0 L917.7 749.5 L919.2 750.0 L920.6 750.4 L922.0 750.8 L923.5 751.3 L924.9 751.7 L926.4 752.1 L927.8 752.5 L929.3 752.9 L930.7 753.3 L932.2 753.6 L933.6 754.0 L935.1 754.4 L936.5 754.7 L938.0 755.0 L939.5 755.4 L940.9 755.7 L942.4 756.0 L943.9 756.3 L945.3 756.6 L946.8 756.9 L948.3 757.2 L949.7 757.5 L951.2 757.8 L952.7 758.0 L954.2 758.3 L955.6 758.5 L957.1 758.8 L958.6 759.0 L960.1 759.3 L961.6 759.5 L963.1 759.7 L964.5 759.9 L966.0 760.2 L967.5 760.4 L969.0 760.6 L970.5 760.8 L972.0 761.0 L973.5 761.2 L974.9 761.3 L976.4 761.5 L977.9 761.7 L979.4 761.9 L980.9 762.1 L982.4 762.2 L983.9 762.4 L985.4 762.5 L986.9 762.7 L988.4 762.9 L989.9 763.0 L991.3 763.1 L992.8 763.3 L994.3 763.4 L995.8 763.6 L997.3 763.7 L998.8 763.8 L1000.3 764.0 L1001.8 764.1 L1003.3 764.2 L1004.8 764.3 L1006.3 764.4 L1007.8 764.6 L1009.3 764.7 L1010.8 764.8 L1012.3 764.9 L1013.8 765.0 L1015.3 765.1 L1016.8 765.2 L1018.3 765.3 L1019.8 765.4 L1021.3 765.5 L1022.7 765.6 L1024.2 765.7 L1025.7 765.8 L1027.2 765.9 L1028.7 766.0 L1030.2 766.0 L1031.7 766.1 L1033.2 766.2 L1034.7 766.3 L1036.2 766.4 L1037.7 766.4 L1039.2 766.5 L1040.7 766.6 L1042.2 766.7 L1043.7 766.8 L1045.2 766.8 L1046.7 766.9 L1048.2 767.0 L1049.7 767.0 L1051.2 767.1 L1052.7 767.2 L1054.2 767.2 L1055.7 767.3 L1057.2 767.4 L1058.7 767.4 L1060.2 767.5 L1061.7 767.6 L1063.2 767.6 L1064.7 767.7 L1066.2 767.7 L1067.7 767.8 L1069.2 767.9 L1070.7 767.9 L1072.2 768.0 L1073.7 768.0 L1075.2 768.1 L1076.7 768.1 L1078.2 768.2 L1079.7 768.2 L1081.2 768.3 L1082.7 768.3 L1084.2 768.4 L1085.7 768.4 L1087.2 768.5 L1088.7 768.5 L1090.2 768.6 L1091.7 768.6 L1093.2 768.7 L1094.7 768.7 L1096.2 768.8 L1097.7 768.8 L1099.2 768.9 L1100.7 768.9 L1102.2 769.0 L1103.7 769.0 L1105.2 769.0 L1106.7 769.1 L1108.2 769.1 L1109.7 769.2 L1111.2 769.2 L1112.7 769.2 L1114.2 769.3 L1115.7 769.3 L1117.2 769.4 L1118.7 769.4 L1120.2 769.4 L1121.7 769.5 L1123.2 769.5"/>
<path stroke="#0000ff" d="M470.0 787.0 L471.5 787.0 L473.0 787.0 L474.5 787.0 L476.0 787.0 L477.5 787.0 L479.0 787.0 L480.5 787.0 L482.0 787.0 L483.5 787.0 L485.0 786.9 L486.5 786.9 L488.0 786.9 L489.5 786.9 L491.0 786.9 L492.5 786.9 L494.0 786.9 L495.5 786.9 L497.0 786.9 L498.5 786.8 L500.0 786.8 L501.5 786.8 L503.0 786.8 L504.5 786.8 L506.0 786.8 L507.5 786.8 L509.0 786.7 L510.5 786.7 L512.0 786.7 L513.5 786.7 L515.0 786.7 L516.5 786.6 L518.0 786.6 L519.5 786.6 L521.0 786.6 L522.5 786.5 L524.0 786.5 L525.5 786.5 L527.0 786.5 L528.5 786.4 L530.0 786.4 L531.5 786.4 L533.0 786.3 L534.5 786.3 L536.0 786.2 L537.5 786.2 L539.0 786.1 L540.5 786.1 L542.0 786.0 L543.5 786.0 L545.0 785.9 L546.5 785.8 L548.0 785.7 L549.5 785.6 L551.0 785.5 L552.5 785.4 L554.0 785.3 L555.5 785.2 L557.0 785.1 L558.5 784.9 L559.9 784.8 L561.4 784.6 L562.9 784.4 L564.4 784.2 L565.9 784.0 L567.4 783.8 L568.9 783.5 L570.3 783.2 L571.8 783.0 L573.3 782.6 L574.7 782.3 L576.2 781.9 L577.6 781.6 L579.1 781.2 L580.5 780.7 L581.9 780.2 L583.4 779.7 L584.8 779.2 L586.1 778.7 L587.5 778.1 L588.9 777.4 L590.2 776.8 L591.6 776.1 L592.9 775.4 L594.2 774.6 L595.4 773.8 L596.7 773.0 L597.9 772.1 L599.2 771.3 L600.3 770.3 L601.5 769.4 L602.7 768.4 L603.8 767.4 L604.9 766.4 L606.0 765.4 L607.0 764.3 L608.0 763.2 L609.1 762.1 L610.0 761.0 L611.0 759.8 L612.0 758.7 L612.9 757.5 L613.8 756.3 L614.7 755.1 L615.6 753.9 L616.4 752.7 L617.3 751.4 L618.1 750.2 L618.9 748.9 L619.7 747.6 L620.5 746.3 L621.2 745.0 L622.0 743.7 L622.7 742.4 L623.4 741.1 L624.1 739.8 L624.8 738.5 L625.5 737.1 L626.2 735.8 L626.8 734.4 L627.5 733.1 L628.1 731.7 L628.8 730.4 L629.4 729.0 L630.0 727.6 L630.6 726.3 L631.2 724.9 L631.8 723.5 L632.3 722.1 L632.9 720.7 L633.5 719.3 L634.0 717.9 L634.6 716.5 L635.1 715.1 L635.6 713.7 L636.2 712.3 L636.7 710.9 L637.2 709.5 L637.7 708.1 L638.2 706.7 L638.7 705.3 L639.2 703.9 L639.7 702.4 L640.2 701.0 L640.6 699.6 L641.1 698.2 L641.6 696.7 L642.0 695.3 L642.5 693.9 L642.9 692.5 L643.4 691.0 L643.8 689.6 L644.3 688.2 L644.7 686.7 L645.1 685.3 L645.6 683.9 L646.0 682.4 L646.4 681.0 L646.8 679.5 L647.2 678.1 L647.6 676.6 L648.1 675.2 L648.5 673.8 L648.9 672.3 L649.3 670.9 L649.7 669.4 L650.0 668.0 L650.4 666.5 L650.8 665.1 L651.2 663.6 L651.6 662.2 L652.0 660.7 L652.3 659.3 L652.7 657.8 L653.1 656.4 L653.4 654.9 L653.8 653.5 L654.2 652.0 L654.5 650.5 L654.9 649.1 L655.3 647.6 L655.6 646.2 L656.0 644.7 L656.3 643.3 L656.7 641.8 L657.0 640.3 L657.4 638.9 L657.7 637.4 L658.0 636.0 L658.4 634.5 L658.7 633.0 L659.1 631.6 L659.4 630.1 L659.7 628.7 L660.1 627.2 L660.4 625.7 L660.7 624.3 L661.0 622.8 L661.4 621.3 L661.7 619.9 L662.0 618.4 L662.3 616.9 L662.7 615.5 L663.0 614.0 L663.3 612.5 L663.6 611.1 L663.9 609.6 L664.2 608.1 L664.5 606.7 L664.9 605.2 L665.2 603.7 L665.5 602.3 L665.8 600.8 L666.1 599.3 L666.4 597.9 L666.7 596.4 L667.0 594.9 L667.3 593.5 L667.6 592.0 L667.9 590.5 L668.2 589.1 L668.5 587.6 L668.8 586.1 L669.1 584.6 L669.4 583.2 L669.7 581.7 L670.0 580.2 L670.3 578.8 L670.6 577.3 L670.9 575.8 L671.2 574.3 L671.4 572.9 L671.7 571.4 L672.0 569.9 L672.3 568.5 L672.6 567.0 L672.9 565.5 L673.2 564.0 L673.5 562.6 L673.7 561.1 L674.0 559.6 L674.3 558.1 L674.6 556.7 L674.9 555.2 L675.2 553.7 L675.4 552.3 L675.7 550.8 L676.0 549.3 L676.3 547.8 L676.6 546.4 L676.8 544.9 L677.1 543.4 L677.4 541.9 L677.7 540.5 L677.9 539.0 L678.2 537.5 L678.5 536.0 L678.8 534.6 L679.0 533.1 L679.3 531.6 L679.6 530.1 L679.9 528.7 L680.1 527.2 L680.4 525.7 L680.7 524.2 L681.0 522.8 L681.2 521.3 L681.5 519.8 L681.8 518.3 L682.1 516.9 L682.3 515.4 L682.6 513.9 L682.9 512.4 L683.1 511.0 L683.4 509.5 L683.7 508.0 L683.9 506.5 L684.2 505.1 L684.5 503.6 L684.8 502.1 L685.0 500.6 L685.3 499.2 L685.6 497.7 L685.8 496.2 L686.1 494.7 L686.4 493.3 L686.6 491.8 L686.9 490.3 L687.2 488.8 L687.4 487.4 L687.7 485.9 L688.0 484.4 L688.3 482.9 L688.5 481.5 L688.8 480.0 L689.1 478.5 L689.3 477.0 L689.6 475.6 L689.9 474.1 L690.1 472.6 L690.4 471.1 L690.7 469.6 L690.9 468.2 L691.2 466.7 L691.5 465.2 L691.8 463.7 L692.0 462.3 L692.3 460.8 L692.6 459.3 L692.8 457.8 L693.1 456.4 L693.4 454.9 L693.7 453.4 L693.9 451.9 L694.2 450.5 L694.5 449.0 L694.7 447.5 L695.0 446.0 L695.3 444.6 L695.6 443.1 L695.8 441.6 L696.1 440.1 L696.4 438.7 L696.7 437.2 L696.9 435.7 L697.2 434.2 L697.5 432.8 L697.8 431.3 L698.0 429.8 L698.3 428.3 L698.6 426.9 L698.9 425.4 L699.2 423.9 L699.4 422.5 L699.7 421.0 L700.0 419.5 L700.3 418.0 L700.6 416.6 L700.8 415.1 L701.1 413.6 L701.4 412.1 L701.7 410.7 L702.0 409.2 L702.3 407.7 L702.6 406.3 L702.9 404.8 L703.1 403.3 L703.4 401.8 L703.7 400.4 L704.0 398.9 L704.3 397.4 L704.6 396.0 L704.9 394.5 L705.2 393.0 L705.5 391.5 L705.8 390.1 L706.1 388.6 L706.4 387.1 L706.7 385.7 L707.0 384.2 L707.3 382.7 L707.6 381.3 L707.9 379.8 L708.2 378.3 L708.5 376.9 L708.8 375.4 L709.1 373.9 L709.5 372.4 L709.8 371.0 L710.1 369.5 L710.4 368.0 L710.7 366.6 L711.0 365.1 L711.4 363.7 L711.7 362.2 L712.0 360.7 L712.3 359.3 L712.7 357.8 L713.0 356.3 L713.3 354.9 L713.7 353.4 L714.0 351.9 L714.4 350.5 L714.7 349.0 L715.0 347.6 L715.4 346.1 L715.7 344.7 L716.1 343.2 L716.4 341.7 L716.8 340.3 L717.2 338.8 L717.5 337.4 L717.9 335.9 L718.3 334.5 L718.6 333.0 L719.0 331.6 L719.4 330.1 L719.8 328.7 L720.2 327.2 L720.6 325.8 L721.0 324.3 L721.4 322.9 L721.8 321.4 L722.2 320.0 L722.6 318.5 L723.0 317.1 L723.4 315.7 L723.9 314.2 L724.3 312.8 L724.7 311.4 L725.2 309.9 L725.6 308.5 L726.1 307.1 L726.6 305.6 L727.1 304.2 L727.5 302.8 L728.0 301.4 L728.6 300.0 L729.1 298.6 L729.6 297.2 L730.1 295.8 L730.7 294.4 L731.2 293.0 L731.8 291.6 L732.4 290.2 L733.0 288.8 L733.7 287.5 L734.3 286.1 L735.0 284.8 L735.7 283.5 L736.4 282.2 L737.2 280.9 L738.0 279.6 L738.8 278.3 L739.7 277.1 L740.6 275.9 L741.6 274.8 L742.6 273.8 L743.8 272.8 L745.0 271.9 L746.4 271.2 L747.8 270.8 L749.3 270.6 L750.8 270.7 L752.2 271.1 L753.6 271.7 L754.8 272.5 L756.0 273.4 L757.1 274.4 L758.1 275.5 L759.1 276.7 L760.0 277.9 L760.8 279.1 L761.7 280.4 L762.4 281.6 L763.2 283.0 L763.9 284.3 L764.6 285.6 L765.3 286.9 L765.9 288.3 L766.5 289.7 L767.2 291.0 L767.8 292.4 L768.3 293.8 L768.9 295.2 L769.5 296.6 L770.0 298.0 L770.5 299.4 L771.1 300.8 L771.6 302.2 L772.1 303.6 L772.6 305.0 L773.1 306.4 L773.5 307.8 L774.0 309.3 L774.5 310.7 L774.9 312.1 L775.4 313.6 L775.8 315.0 L776.3 316.4 L776.7 317.9 L777.2 319.3 L777.6 320.7 L778.0 322.2 L778.4 323.6 L778.8 325.0 L779.2 326.5 L779.6 327.9 L780.0 329.4 L780.4 330.8 L780.8 332.3 L781.2 333.7 L781.6 335.2 L782.0 336.6 L782.4 338.1 L782.8 339.5 L783.2 341.0 L783.5 342.4 L783.9 343.9 L784.3 345.3 L784.7 346.8 L785.0 348.2 L785.4 349.7 L785.8 351.1 L786.1 352.6 L786.5 354.1 L786.8 355.5 L787.2 357.0 L787.6 358.4 L787.9 359.9 L788.3 361.3 L788.6 362.8 L789.0 364.3 L789.3 365.7 L789.7 367.2 L790.0 368.6 L790.4 370.1 L790.7 371.5 L791.1 373.0 L791.4 374.5 L791.7 375.9 L792.1 377.4 L792.4 378.9 L792.8 380.3 L793.1 381.8 L793.4 383.2 L793.8 384.7 L794.1 386.2 L794.4 387.6 L794.8 389.1 L795.1 390.5 L795.4 392.0 L795.8 393.5 L796.1 394.9 L796.4 396.4 L796.8 397.9 L797.1 399.3 L797.4 400.8 L797.8 402.3 L798.1 403.7 L798.4 405.2 L798.7 406.6 L799.1 408.1 L799.4 409.6 L799.7 411.0 L800.0 412.5 L800.4 414.0 L800.7 415.4 L801.0 416.9 L801.3 418.4 L801.7 419.8 L802.0 421.3 L802.3 422.8 L802.6 424.2 L803.0 425.7 L803.3 427.1 L803.6 428.6 L803.9 430.1 L804.3 431.5 L804.6 433.0 L804.9 434.5 L805.2 435.9 L805.5 437.4 L805.9 438.9 L806.2 440.3 L806.5 441.8 L806.8 443.3 L807.2 444.7 L807.5 446.2 L807.8 447.7 L808.1 449.1 L808.5 450.6 L808.8 452.0 L809.1 453.5 L809.4 455.0 L809.8 456.4 L810.1 457.9 L810.4 459.4 L810.7 460.8 L811.1 462.3 L811.4 463.8 L811.7 465.2 L812.0 466.7 L812.4 468.2 L812.7 469.6 L813.0 471.1 L813.3 472.5 L813.7 474.0 L814.0 475.5 L814.3 476.9 L814.7 478.4 L815.0 479.9 L815.3 481.3 L815.7 482.8 L816.0 484.2 L816.3 485.7 L816.7 487.2 L817.0 488.6 L817.3 490.1 L817.7 491.6 L818.0 493.0 L818.4 494.5 L818.7 495.9 L819.0 497.4 L819.4 498.9 L819.7 500.3 L820.1 501.8 L820.4 503.2 L820.7 504.7 L821.1 506.2 L821.4 507.6 L821.8 509.1 L822.1 510.5 L822.5 512.0 L822.8 513.5 L823.2 514.9 L823.5 516.4 L823.9 517.8 L824.2 519.3 L824.6 520.7 L824.9 522.2 L825.3 523.7 L825.7 525.1 L826.0 526.6 L826.4 528.0 L826.7 529.5 L827.1 530.9 L827.5 532.4 L827.8 533.9 L828.2 535.3 L828.6 536.8 L828.9 538.2 L829.3 539.7 L829.7 541.1 L830.1 542.6 L830.4 544.0 L830.8 545.5 L831.2 546.9 L831.6 548.4 L831.9 549.8 L832.3 551.3 L832.7 552.7 L833.1 554.2 L833.5 555.6 L833.9 557.1 L834.3 558.5 L834.7 560.0 L835.1 561.4 L835.5 562.9 L835.8 564.3 L836.3 565.8 L836.7 567.2 L837.1 568.7 L837.5 570.1 L837.9 571.5 L838.3 573.0 L838.7 574.4 L839.1 575.9 L839.5 577.3 L839.9 578.7 L840.4 580.2 L840.8 581.6 L841.2 583.1 L841.6 584.5 L842.1 585.9 L842.5 587.4 L842.9 588.8 L843.4 590.2 L843.8 591.7 L844.2 593.1 L844.7 594.5 L845.1 596.0 L845.6 597.4 L846.0 598.8 L846.5 600.3 L847.0 601.7 L847.4 603.1 L847.9 604.6 L848.3 606.0 L848.8 607.4 L849.3 608.8 L849.8 610.2 L850.2 611.7 L850.7 613.1 L851.2 614.5 L851.7 615.9 L852.2 617.3 L852.7 618.8 L853.2 620.2 L853.7 621.6 L854.2 623.0 L854.7 624.4 L855.2 625.8 L855.7 627.2 L856.2 628.6 L856.8 630.0 L857.3 631.5 L857.8 632.9 L858.4 634.3 L858.9 635.7 L859.4 637.1 L860.0 638.4 L860.5 639.8 L861.1 641.2 L861.7 642.6 L862.2 644.0 L862.8 645.4 L863.4 646.8 L864.0 648.2 L864.5 649.6 L865.1 650.9 L865.7 652.3 L866.3 653.7 L866.9 655.1 L867.5 656.4 L868.2 657.8 L868.8 659.2 L869.4 660.5 L870.0 661.9 L870.7 663.2 L871.3 664.6 L872.0 665.9 L872.6 667.3 L873.3 668.6 L874.0 670.0 L874.6 671.3 L875.3 672.7 L876.0 674.0 L876.7 675.3 L877.4 676.6 L878.1 678.0 L878.8 679.3 L879.6 680.6 L880.3 681.9 L881.0 683.2 L881.8 684.5 L882.5 685.8 L883.3 687.1 L884.1 688.4 L884.8 689.7 L885.6 690.9 L886.4 692.2 L887.2 693.5 L888.1 694.7 L888.9 696.0 L889.7 697.2 L890.6 698.5 L891.4 699.7 L892.3 700.9 L893.1 702.2 L894.0 703.4 L894.9 704.6 L895.8 705.8 L896.7 707.0 L897.7 708.1 L898.6 709.3 L899.5 710.5 L900.5 711.6 L901.5 712.8 L902.4 713.9 L903.4 715.0 L904.4 716.2 L905.5 717.3 L906.5 718.4 L907.5 719.4 L908.6 720.5 L909.6 721.6 L910.7 722.6 L911.8 723.7 L912.9 724.7 L914.0 725.7 L915.1 726.7 L916.2 727.7 L917.4 728.6 L918.6 729.6 L919.7 730.5 L920.9 731.5 L922.1 732.4 L923.3 733.3 L924.5 734.1 L925.7 735.0 L927.0 735.9 L928.2 736.7 L929.5 737.5 L930.7 738.3 L932.0 739.1 L933.3 739.9 L934.6 740.6 L935.9 741.4 L937.2 742.1 L938.6 742.8 L939.9 743.5 L941.2 744.1 L942.6 744.8 L943.9 745.4 L945.3 746.1 L946.7 746.7 L948.0 747.3 L949.4 747.8 L950.8 748.4 L952.2 748.9 L953.6 749.5 L955.0 750.0 L956.4 750.5 L957.9 751.0 L959.3 751.5 L960.7 751.9 L962.1 752.4 L963.6 752.8 L965.0 753.3 L966.4 753.7 L967.9 754.1 L969.3 754.5 L970.8 754.9 L972.2 755.3 L973.7 755.6 L975.1 756.0 L976.6 756.3 L978.1 756.7 L979.5 757.0 L981.0 757.3 L982.5 757.6 L983.9 757.9 L985.4 758.2 L986.9 758.5 L988.3 758.8 L989.8 759.1 L991.3 759.4 L992.8 759.6 L994.2 759.9 L995.7 760.1 L997.2 760.4 L998.7 760.6 L1000.2 760.9 L1001.7 761.1 L1003.1 761.3 L1004.6 761.5 L1006.1 761.7 L1007.6 762.0 L1009.1 762.2 L1010.6 762.4 L1012.0 762.6 L1013.5 762.8 L1015.0 762.9 L1016.5 763.1 L1018.0 763.3 L1019.5 763.5 L1021.0 763.7 L1022.5 763.8 L1024.0 764.0 L1025.4 764.2 L1026.9 764.3 L1028.4 764.5 L1029.9 764.6 L1031.4 764.8 L1032.9 765.0 L1034.4 765.1 L1035.9 765.2 L1037.4 765.4 L1038.9 765.5 L1040.4 765.7 L1041.9 765.8 L1043.4 765.9 L1044.9 766.1 L1046.4 766.2 L1047.8 766.3 L1049.3 766.5 L1050.8 766.6 L1052.3 766.7 L1053.8 766.8 L1055.3 766.9 L1056.8 767.1 L1058.3 767.2 L1059.8 767.3 L1061.3 767.4 L1062.8 767.5 L1064.3 767.6 L1065.8 767.7 L1067.3 767.8 L1068.8 767.9 L1070.3 768.0 L1071.8 768.1 L1073.3 768.2 L1074.8 768.3 L1076.3 768.4 L1077.8 768.5 L1079.3 768.6 L1080.8 768.7 L1082.3 768.8 L1083.8 768.9 L1085.3 769.0 L1086.7 769.1 L1088.2 769.2 L1089.7 769.2 L1091.2 769.3 L1092.7 769.4 L1094.2 769.5 L1095.7 769.6 L1097.2 769.7 L1098.7 769.7 L1100.2 769.8 L1101.7 769.9 L1103.2 770.0 L1104.7 770.0 L1106.2 770.1 L1107.7 770.2 L1109.2 770.3 L1110.7 770.3 L1112.2 770.4 L1113.7 770.5 L1115.2 770.5 L1116.7 770.6 L1118.2 770.7 L1119.7 770.7 L1121.2 770.8 L1122.7 770.9"/>
</g>
<g shape-rendering="crispEdges">
<line x1="272.6" y1="293.7" x2="300.5" y2="273.8" stroke="#000" stroke-width="2.0"/><polygon fill="#000" points="314.7,263.6 301.9,279.2 295.8,270.7"/>
<line x1="681.0" y1="280.4" x2="673.0" y2="251.0" stroke="#000" stroke-width="2.0"/><polygon fill="#000" points="668.4,234.1 678.6,251.5 668.5,254.3"/>
<line x1="721.7" y1="272.6" x2="722.7" y2="251.6" stroke="#000" stroke-width="2.0"/><polygon fill="#000" points="723.6,234.1 727.9,253.8 717.4,253.3"/>
<line x1="756.8" y1="271.6" x2="772.2" y2="250.4" stroke="#000" stroke-width="2.0"/><polygon fill="#000" points="782.5,236.2 775.3,255.1 766.8,248.9"/>
</g>
<g style="filter:grayscale(1)">
<text x="138.5" y="57" font-size="47" text-anchor="end" textLength="54.8" lengthAdjust="spacingAndGlyphs">1.0</text>
<text x="137.5" y="430" font-size="47" text-anchor="end" textLength="53.1" lengthAdjust="spacingAndGlyphs">0.5</text>
<text x="138.5" y="802" font-size="47" text-anchor="end" textLength="56.2" lengthAdjust="spacingAndGlyphs">0.0</text>
<text x="1136.5" y="57" font-size="47" text-anchor="start" textLength="121.7" lengthAdjust="spacingAndGlyphs">50,000</text>
<text x="1137.5" y="430" font-size="47" text-anchor="start" textLength="120.5" lengthAdjust="spacingAndGlyphs">25,000</text>
<text x="1137.5" y="802" font-size="47" text-anchor="start">0</text>
<text x="161.3" y="848" font-size="47" text-anchor="middle" textLength="67.6" lengthAdjust="spacingAndGlyphs">350</text>
<text x="321.6" y="848" font-size="47" text-anchor="middle" textLength="67.6" lengthAdjust="spacingAndGlyphs">400</text>
<text x="482.0" y="848" font-size="47" text-anchor="middle" textLength="67.6" lengthAdjust="spacingAndGlyphs">450</text>
<text x="642.3" y="848" font-size="47" text-anchor="middle" textLength="67.6" lengthAdjust="spacingAndGlyphs">500</text>
<text x="802.6" y="848" font-size="47" text-anchor="middle" textLength="67.6" lengthAdjust="spacingAndGlyphs">550</text>
<text x="963.0" y="848" font-size="47" text-anchor="middle" textLength="67.6" lengthAdjust="spacingAndGlyphs">600</text>
<text x="1123.3" y="848" font-size="47" text-anchor="middle" textLength="67.6" lengthAdjust="spacingAndGlyphs">650</text>
<text x="642" y="922" font-size="57" text-anchor="middle" textLength="372.2" lengthAdjust="spacingAndGlyphs">Wavelength/nm</text>
<text transform="translate(63,372.5) rotate(-90)" font-size="57" text-anchor="middle" textLength="412" lengthAdjust="spacingAndGlyphs">Absorbance(a.u.)</text>
<text transform="translate(1295,358) rotate(-90)" font-size="57" text-anchor="middle" textLength="425.5" lengthAdjust="spacingAndGlyphs">PL intensity(a.u.)</text>
<text x="653.3" y="222.5" font-size="57" text-anchor="start" textLength="27.2" lengthAdjust="spacingAndGlyphs">a</text>
<text x="713.3" y="217" font-size="57" text-anchor="start" textLength="30.2" lengthAdjust="spacingAndGlyphs">b</text>
<text x="779.5" y="221" font-size="57" text-anchor="start" textLength="23.8" lengthAdjust="spacingAndGlyphs">c</text>
<text x="319" y="277.3" font-size="57" text-anchor="start" textLength="29.4" lengthAdjust="spacingAndGlyphs">d</text>
</g>
</svg></body></html>
